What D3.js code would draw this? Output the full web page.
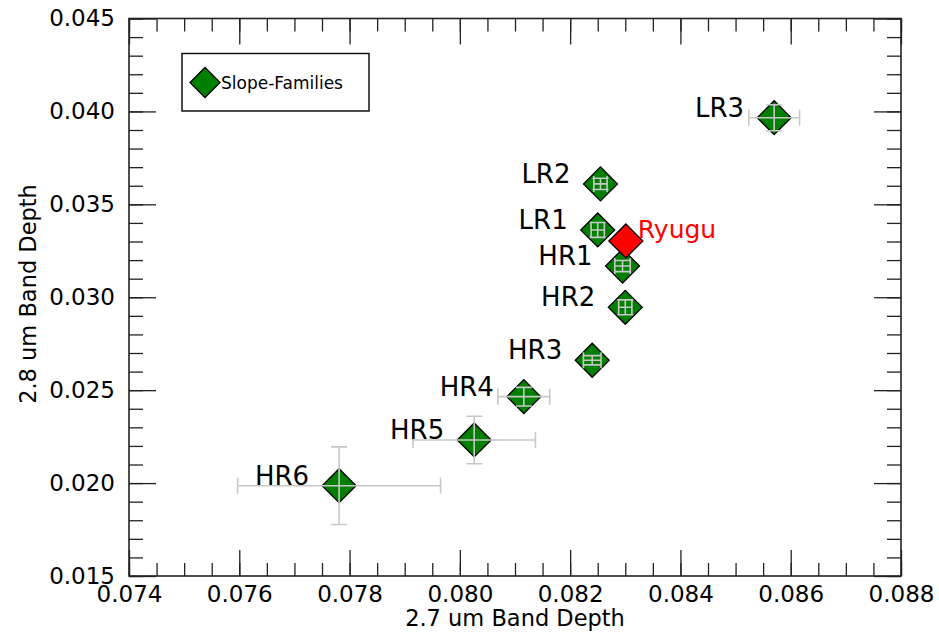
<!DOCTYPE html>
<html>
<head>
<meta charset="utf-8">
<script src="https://cdn.jsdelivr.net/npm/d3@7"></script>
<style>
  body { margin: 0; background: #fff; }
  svg { display: block; font-family: "DejaVu Sans", sans-serif; }
</style>
</head>
<body>
<svg id="chart" width="939" height="635"></svg>
<script>
// slope families (2.7 um vs 2.8 um band depth)
var names = ["LR3", "LR2", "LR1", "HR1", "HR2", "HR3", "HR4", "HR5", "HR6"];
var bd27 = [0.0857, 0.08255, 0.0825, 0.08295, 0.0830, 0.0824, 0.08116, 0.08026, 0.07781];
var bd28 = [0.03966, 0.0361, 0.03362, 0.03168, 0.02946, 0.02661, 0.02465, 0.02232, 0.01986];
var err27 = [0.00046, 0.00012, 0.00012, 0.00014, 0.00012, 0.00016, 0.00047, 0.00111, 0.00184];
var err28 = [0.0007, 0.0003, 0.0004, 0.0003, 0.0004, 0.00025, 0.0005, 0.00128, 0.00209];

// Ryugu
var ryuguX = 0.08301, ryuguY = 0.03303;

// axis ticks
var xTicks = [0.074, 0.076, 0.078, 0.080, 0.082, 0.084, 0.086, 0.088];
var yTicks = [0.015, 0.020, 0.025, 0.030, 0.035, 0.040, 0.045];

var svg = d3.select("#chart");
var pl = 129, pr = 901, pt = 18.5, pb = 576;

var x = d3.scaleLinear().domain([0.074, 0.088]).range([pl, pr]);
var y = d3.scaleLinear().domain([0.015, 0.045]).range([pb, pt]);

var xMinor = d3.range(0, 29).map(function (i) { return 0.074 + i * 0.0005; });
var yMinor = d3.range(0, 31).map(function (i) { return 0.015 + i * 0.001; });

var fmt = d3.format(".3f");

function styleAxis(g) {
  g.select(".domain").remove();
  g.selectAll(".tick line").attr("stroke", "#222").attr("stroke-width", 1.3);
  g.selectAll(".tick text")
    .attr("fill", "#000")
    .style("font-family", "DejaVu Sans")
    .style("font-size", "23px");
}

// minor ticks, all four sides
svg.append("g").attr("transform", "translate(0," + pb + ")")
  .call(d3.axisBottom(x).tickValues(xMinor).tickSize(-13).tickFormat("")).call(styleAxis);
svg.append("g").attr("transform", "translate(0," + pt + ")")
  .call(d3.axisTop(x).tickValues(xMinor).tickSize(-13).tickFormat("")).call(styleAxis);
svg.append("g").attr("transform", "translate(" + pl + ",0)")
  .call(d3.axisLeft(y).tickValues(yMinor).tickSize(-14).tickFormat("")).call(styleAxis);
svg.append("g").attr("transform", "translate(" + pr + ",0)")
  .call(d3.axisRight(y).tickValues(yMinor).tickSize(-14).tickFormat("")).call(styleAxis);

// major ticks
svg.append("g").attr("transform", "translate(0," + pb + ")")
  .call(d3.axisBottom(x).tickValues(xTicks).tickSize(-26).tickPadding(10).tickFormat(fmt)).call(styleAxis);
svg.append("g").attr("transform", "translate(0," + pt + ")")
  .call(d3.axisTop(x).tickValues(xTicks).tickSize(-26).tickFormat("")).call(styleAxis);
svg.append("g").attr("transform", "translate(" + pl + ",0)")
  .call(d3.axisLeft(y).tickValues(yTicks).tickSize(-27).tickPadding(14).tickFormat(fmt)).call(styleAxis);
svg.append("g").attr("transform", "translate(" + pr + ",0)")
  .call(d3.axisRight(y).tickValues(yTicks).tickSize(-27).tickFormat("")).call(styleAxis);

// frame
svg.append("rect")
  .attr("x", pl).attr("y", pt)
  .attr("width", pr - pl).attr("height", pb - pt)
  .attr("fill", "none").attr("stroke", "#222").attr("stroke-width", 1.6);

// axis titles
svg.append("text")
  .attr("x", (pl + pr) / 2).attr("y", 626)
  .attr("text-anchor", "middle")
  .style("font-size", "22.5px")
  .text("2.7 um Band Depth");

svg.append("text")
  .attr("transform", "translate(36," + 294 + ") rotate(-90)")
  .attr("text-anchor", "middle")
  .style("font-size", "22.5px")
  .text("2.8 um Band Depth");

// legend
svg.append("rect")
  .attr("x", 182).attr("y", 53.5).attr("width", 187).attr("height", 57.5)
  .attr("fill", "#fff").attr("stroke", "#111").attr("stroke-width", 1.5);
svg.append("path")
  .attr("d", d3.symbol(d3.symbolSquare, 450)())
  .attr("transform", "translate(205,82.5) rotate(45)")
  .attr("fill", "#007f00").attr("stroke", "#000").attr("stroke-width", 1.3);
svg.append("text")
  .attr("x", 221).attr("y", 88.5)
  .style("font-size", "17px")
  .text("Slope-Families");

var pts = names.map(function (n, i) {
  return { name: n, x: bd27[i], y: bd28[i], ex: err27[i], ey: err28[i] };
});

var diamond = d3.symbol(d3.symbolSquare, 576);

svg.append("g").selectAll("path")
  .data(pts).enter().append("path")
  .attr("d", diamond())
  .attr("transform", function (d) { return "translate(" + x(d.x) + "," + y(d.y) + ") rotate(45)"; })
  .attr("fill", "#007f00").attr("stroke", "#000").attr("stroke-width", 1.3);

// error bars
var cap = 8;
var eb = svg.append("g").attr("stroke", "#c8c8c8").attr("stroke-width", 1.6).attr("fill", "none");
pts.forEach(function (d) {
  var cx = x(d.x), cy = y(d.y);
  var x0 = x(d.x - d.ex), x1 = x(d.x + d.ex);
  var y0 = y(d.y - d.ey), y1 = y(d.y + d.ey);
  eb.append("path").attr("d",
    "M" + x0 + "," + cy + "H" + x1 +
    "M" + x0 + "," + (cy - cap) + "V" + (cy + cap) +
    "M" + x1 + "," + (cy - cap) + "V" + (cy + cap) +
    "M" + cx + "," + y0 + "V" + y1 +
    "M" + (cx - cap) + "," + y0 + "H" + (cx + cap) +
    "M" + (cx - cap) + "," + y1 + "H" + (cx + cap));
});

// point labels
svg.append("g").selectAll("text")
  .data(pts).enter().append("text")
  .attr("x", function (d) { return x(d.x) - 30; })
  .attr("y", function (d) { return y(d.y) - 1; })
  .attr("text-anchor", "end")
  .style("font-size", "26px")
  .text(function (d) { return d.name; });

// Ryugu
svg.append("path")
  .attr("d", diamond())
  .attr("transform", "translate(" + x(ryuguX) + "," + y(ryuguY) + ") rotate(45)")
  .attr("fill", "#ff0000").attr("stroke", "#000").attr("stroke-width", 1.3);
svg.append("text")
  .attr("x", x(ryuguX) + 12).attr("y", y(ryuguY) - 3)
  .attr("fill", "#ff0000")
  .style("font-size", "25px")
  .text("Ryugu");
</script>
</body>
</html>
